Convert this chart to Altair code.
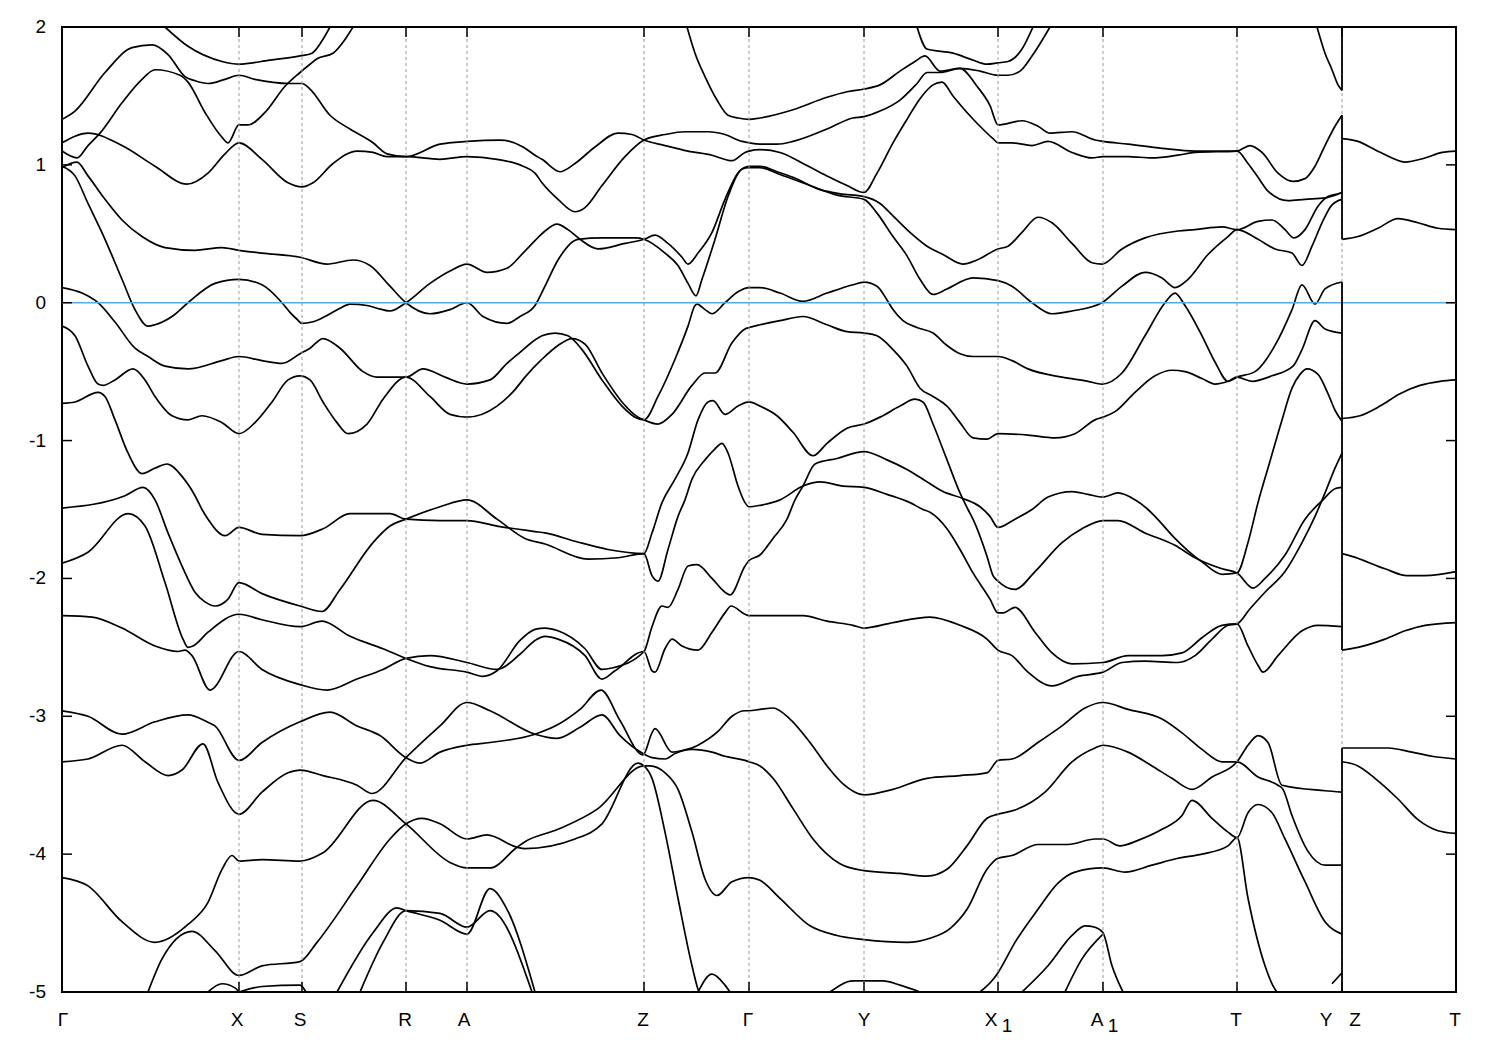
import altair as alt
import pandas as pd

# k: position along the k-path (path units), E: energy (eV)
band_01 = [(103,2.0),(126,1.86),(160,1.75),(177,1.73),(208,1.76),(238,1.79),(250,1.81),(260,1.90),(268,2.0)]
band_02 = [(0,1.33),(13,1.39),(43,1.67),(70,1.85),(90,1.87),(106,1.80),(123,1.64),(133,1.61),(146,1.59),(163,1.62),(177,1.65),(193,1.62),(228,1.59),(240,1.59),(248,1.55),(268,1.36),(288,1.26),(311,1.16),(325,1.08),(344,1.06),(378,1.15),(405,1.17),(438,1.18),(461,1.13),(473,1.07),(480,1.04),(498,0.95),(513,1.01),(533,1.13),(556,1.23),(570,1.22),(582,1.18),(603,1.14),(626,1.10),(650,1.07),(670,1.03),(683,1.09),(687,1.10),(698,1.11),(718,1.09),(741,1.01),(765,0.92),(785,0.85),(802,0.80),(815,0.94),(831,1.16),(845,1.33),(858,1.48),(871,1.58),(880,1.60),(891,1.50),(905,1.38),(918,1.28),(931,1.19),(936,1.16),(950,1.16),(970,1.14),(986,1.17),(1010,1.09),(1030,1.05),(1041,1.06),(1066,1.06),(1090,1.05),(1116,1.07),(1133,1.09),(1175,1.10),(1188,1.14),(1200,1.09),(1216,0.94),(1231,0.88),(1243,0.90),(1253,0.99),(1263,1.14),(1273,1.28),(1280,1.36)]
band_03 = [(0,1.10),(15,1.05),(26,1.14),(38,1.23),(60,1.45),(80,1.62),(93,1.69),(118,1.65),(126,1.60),(143,1.38),(160,1.20),(166,1.16),(177,1.29),(186,1.29),(203,1.38),(223,1.57),(238,1.67),(248,1.73),(255,1.77),(271,1.81),(283,1.91),(291,2.0)]
band_04 = [(0,1.16),(26,1.23),(60,1.14),(93,0.99),(125,0.86),(146,0.94),(163,1.08),(177,1.16),(200,1.04),(226,0.87),(240,0.84),(251,0.87),(271,1.01),(295,1.10),(311,1.09),(325,1.06),(344,1.06),(378,1.04),(405,1.06),(435,1.04),(461,0.99),(473,0.94),(480,0.87),(496,0.75),(513,0.66),(523,0.69),(540,0.85),(563,1.06),(582,1.18),(603,1.22),(623,1.24),(646,1.24),(663,1.22),(680,1.17),(687,1.16),(698,1.15),(715,1.15),(731,1.17),(765,1.26),(791,1.34),(802,1.35),(818,1.39),(838,1.47),(855,1.59),(865,1.67),(878,1.67),(898,1.70),(915,1.57),(928,1.43),(936,1.29),(960,1.32),(976,1.28),(988,1.23),(1010,1.24),(1033,1.18),(1041,1.17),(1066,1.15),(1100,1.12),(1133,1.10),(1175,1.10),(1186,1.01),(1196,0.91),(1206,0.81),(1226,0.74),(1243,0.75),(1263,0.76),(1273,0.78),(1280,0.80)]
band_05 = [(625,2.0),(633,1.81),(643,1.64),(655,1.47),(666,1.36),(676,1.34),(687,1.33),(698,1.34),(731,1.40),(765,1.49),(785,1.53),(802,1.55),(818,1.58),(838,1.68),(853,1.75),(863,1.79),(878,1.68),(898,1.70),(918,1.68),(936,1.65),(946,1.65),(958,1.68),(970,1.79),(988,2.0)]
band_06 = [(855,2.0),(865,1.84),(891,1.81),(911,1.76),(925,1.73),(936,1.74),(946,1.75),(960,1.84),(971,2.0)]
band_07 = [(0,0.99),(13,0.92),(26,0.72),(43,0.46),(60,0.17),(73,-0.05),(86,-0.17),(93,-0.16),(110,-0.10),(126,0.0),(153,0.14),(177,0.17),(200,0.13),(220,0.0),(228,-0.07),(235,-0.12),(240,-0.15),(250,-0.14),(263,-0.10),(278,-0.04),(288,-0.01),(305,-0.02),(315,-0.04),(328,-0.06),(344,0.0),(368,0.14),(388,0.23),(405,0.28),(425,0.22),(445,0.25),(461,0.36),(473,0.45),(483,0.52),(495,0.57),(506,0.53),(518,0.46),(536,0.39),(563,0.43),(582,0.46),(593,0.49),(606,0.43),(620,0.33),(626,0.28),(636,0.36),(650,0.51),(663,0.75),(676,0.94),(687,0.99),(698,0.99),(715,0.95),(731,0.91),(758,0.82),(778,0.79),(802,0.77),(818,0.72),(831,0.63),(848,0.51),(865,0.41),(881,0.35),(901,0.28),(915,0.31),(936,0.39),(946,0.41),(960,0.51),(976,0.62),(990,0.58),(1010,0.43),(1030,0.29),(1040,0.28),(1060,0.39),(1083,0.47),(1116,0.52),(1133,0.53),(1160,0.55),(1175,0.53),(1196,0.59),(1210,0.60),(1223,0.53),(1232,0.47),(1243,0.53),(1256,0.70),(1266,0.77),(1276,0.79),(1280,0.80)]
band_08 = [(0,0.98),(15,1.02),(26,0.92),(43,0.75),(60,0.60),(80,0.48),(103,0.40),(133,0.38),(160,0.40),(177,0.38),(200,0.36),(238,0.33),(265,0.28),(291,0.31),(308,0.27),(328,0.12),(344,0.0),(368,-0.08),(388,-0.05),(405,0.0),(421,-0.10),(445,-0.15),(458,-0.10),(473,-0.02),(483,0.12),(496,0.31),(516,0.46),(540,0.47),(573,0.47),(582,0.46),(603,0.36),(616,0.27),(626,0.14),(634,0.05),(640,0.17),(653,0.46),(666,0.77),(680,0.97),(687,0.98),(698,0.98),(718,0.93),(748,0.85),(775,0.78),(802,0.75),(815,0.65),(831,0.48),(845,0.34),(858,0.17),(871,0.06),(885,0.10),(911,0.18),(936,0.16),(950,0.12),(970,0.0),(990,-0.08),(1010,-0.06),(1040,0.0),(1060,0.12),(1083,0.22),(1100,0.18),(1113,0.11),(1126,0.17),(1146,0.35),(1166,0.48),(1175,0.53),(1196,0.46),(1213,0.39),(1230,0.36),(1240,0.27),(1250,0.41),(1260,0.58),(1270,0.71),(1280,0.75)]
band_09 = [(0,0.11),(20,0.07),(36,0.0),(53,-0.14),(73,-0.33),(86,-0.39),(103,-0.46),(126,-0.48),(160,-0.42),(177,-0.39),(200,-0.42),(220,-0.44),(238,-0.37),(248,-0.33),(261,-0.26),(278,-0.33),(301,-0.50),(315,-0.54),(328,-0.54),(344,-0.54),(361,-0.48),(383,-0.54),(405,-0.59),(428,-0.56),(445,-0.44),(458,-0.36),(473,-0.27),(480,-0.24),(493,-0.22),(506,-0.24),(520,-0.34),(540,-0.56),(560,-0.75),(573,-0.83),(582,-0.85),(596,-0.68),(613,-0.41),(626,-0.17),(633,-0.02),(635,-0.01),(643,-0.05),(650,-0.08),(663,0.0),(676,0.08),(687,0.11),(698,0.11),(718,0.07),(741,0.01),(765,0.07),(791,0.13),(802,0.15),(815,0.12),(825,0.02),(831,-0.05),(841,-0.13),(855,-0.18),(871,-0.22),(885,-0.31),(898,-0.37),(911,-0.39),(936,-0.39),(950,-0.42),(966,-0.48),(1000,-0.54),(1026,-0.57),(1040,-0.59),(1060,-0.51),(1083,-0.24),(1103,0.0),(1113,0.07),(1123,-0.02),(1140,-0.24),(1153,-0.43),(1166,-0.57),(1175,-0.54),(1193,-0.50),(1213,-0.31),(1230,-0.05),(1240,0.13),(1253,-0.01),(1263,0.10),(1280,0.15)]
band_10 = [(0,-0.17),(13,-0.24),(26,-0.46),(36,-0.59),(41,-0.60),(53,-0.56),(71,-0.48),(83,-0.56),(93,-0.68),(110,-0.82),(126,-0.85),(140,-0.82),(160,-0.87),(177,-0.95),(193,-0.87),(210,-0.72),(226,-0.56),(238,-0.53),(248,-0.56),(261,-0.72),(275,-0.87),(286,-0.95),(305,-0.88),(321,-0.70),(344,-0.54),(368,-0.68),(388,-0.81),(405,-0.83),(435,-0.75),(453,-0.63),(463,-0.54),(480,-0.41),(496,-0.31),(510,-0.26),(523,-0.30),(540,-0.51),(560,-0.72),(576,-0.83),(582,-0.85),(596,-0.88),(610,-0.81),(630,-0.60),(643,-0.51),(653,-0.51),(670,-0.29),(683,-0.19),(687,-0.18),(698,-0.16),(718,-0.13),(741,-0.10),(765,-0.16),(785,-0.21),(802,-0.22),(815,-0.24),(831,-0.34),(845,-0.46),(858,-0.62),(871,-0.68),(885,-0.75),(898,-0.87),(911,-0.98),(925,-0.99),(936,-0.95),(966,-0.96),(993,-0.98),(1013,-0.95),(1033,-0.85),(1041,-0.83),(1053,-0.79),(1073,-0.65),(1093,-0.53),(1110,-0.49),(1123,-0.50),(1140,-0.55),(1153,-0.59),(1166,-0.57),(1175,-0.54),(1190,-0.57),(1210,-0.53),(1231,-0.46),(1240,-0.34),(1253,-0.13),(1263,-0.19),(1280,-0.22)]
band_11 = [(0,-0.73),(13,-0.72),(36,-0.65),(43,-0.68),(53,-0.85),(66,-1.09),(80,-1.24),(93,-1.20),(105,-1.17),(120,-1.26),(133,-1.40),(140,-1.50),(146,-1.57),(163,-1.69),(177,-1.63),(200,-1.68),(238,-1.69),(261,-1.64),(288,-1.53),(328,-1.53),(344,-1.57),(378,-1.58),(405,-1.58),(435,-1.62),(473,-1.66),(483,-1.67),(513,-1.73),(546,-1.79),(582,-1.82),(590,-1.67),(600,-1.45),(613,-1.28),(626,-1.09),(636,-0.85),(646,-0.72),(651,-0.71),(663,-0.81),(676,-0.75),(687,-0.72),(698,-0.75),(715,-0.82),(731,-0.94),(751,-1.11),(765,-1.02),(785,-0.91),(802,-0.88),(818,-0.83),(838,-0.75),(853,-0.70),(861,-0.72),(871,-0.88),(885,-1.14),(898,-1.38),(906,-1.50),(911,-1.57),(925,-1.84),(931,-1.98),(936,-2.02),(953,-2.08),(973,-1.95),(1000,-1.74),(1020,-1.64),(1041,-1.58),(1056,-1.58),(1083,-1.67),(1113,-1.76),(1133,-1.85),(1160,-1.93),(1175,-1.96),(1191,-2.07),(1203,-2.00),(1223,-1.83),(1243,-1.57),(1261,-1.43),(1273,-1.35),(1280,-1.34)]
band_12 = [(0,-1.49),(63,-1.40),(81,-1.34),(93,-1.43),(106,-1.67),(120,-1.91),(133,-2.10),(143,-2.17),(153,-2.20),(166,-2.15),(177,-2.03),(200,-2.11),(238,-2.20),(260,-2.24),(278,-2.08),(311,-1.74),(328,-1.62),(344,-1.57),(378,-1.48),(405,-1.43),(435,-1.57),(463,-1.71),(483,-1.75),(526,-1.86),(556,-1.85),(582,-1.82),(590,-1.98),(596,-2.02),(606,-1.79),(616,-1.55),(623,-1.43),(630,-1.28),(643,-1.14),(653,-1.06),(660,-1.02),(666,-1.09),(676,-1.33),(683,-1.45),(687,-1.48),(698,-1.47),(718,-1.43),(741,-1.33),(758,-1.30),(781,-1.33),(802,-1.34),(825,-1.39),(848,-1.45),(861,-1.50),(868,-1.52),(885,-1.64),(898,-1.79),(911,-1.96),(928,-2.15),(936,-2.25),(941,-2.25),(953,-2.21),(973,-2.39),(990,-2.54),(1010,-2.62),(1041,-2.61),(1066,-2.56),(1100,-2.56),(1120,-2.54),(1140,-2.43),(1160,-2.34),(1175,-2.33),(1186,-2.49),(1196,-2.63),(1201,-2.68),(1216,-2.56),(1240,-2.38),(1256,-2.34),(1280,-2.35)]
band_13 = [(0,-1.89),(26,-1.81),(66,-1.53),(83,-1.62),(103,-2.03),(121,-2.44),(126,-2.50),(131,-2.49),(146,-2.39),(177,-2.26),(200,-2.30),(238,-2.35),(260,-2.31),(288,-2.42),(321,-2.51),(344,-2.58),(368,-2.64),(405,-2.68),(421,-2.71),(435,-2.67),(458,-2.45),(473,-2.37),(483,-2.36),(496,-2.38),(523,-2.51),(540,-2.66),(550,-2.65),(582,-2.53),(590,-2.35),(600,-2.20),(606,-2.21),(616,-2.08),(626,-1.91),(635,-1.90),(650,-2.00),(663,-2.10),(668,-2.12),(683,-1.91),(687,-1.87),(698,-1.83),(711,-1.71),(725,-1.57),(733,-1.43),(741,-1.33),(753,-1.17),(775,-1.13),(802,-1.08),(825,-1.14),(845,-1.21),(861,-1.28),(881,-1.37),(901,-1.42),(918,-1.48),(928,-1.55),(936,-1.63),(953,-1.57),(970,-1.50),(986,-1.41),(1010,-1.37),(1026,-1.39),(1041,-1.41),(1056,-1.38),(1073,-1.43),(1086,-1.50),(1093,-1.55),(1113,-1.71),(1126,-1.80),(1140,-1.88),(1160,-1.97),(1175,-1.96),(1186,-1.74),(1196,-1.45),(1208,-1.15),(1220,-0.85),(1230,-0.62),(1238,-0.52),(1245,-0.48),(1256,-0.52),(1266,-0.66),(1273,-0.78),(1280,-0.86)]
band_14 = [(0,-2.27),(30,-2.28),(60,-2.36),(93,-2.49),(116,-2.53),(123,-2.52),(130,-2.56),(148,-2.81),(177,-2.53),(200,-2.66),(238,-2.77),(265,-2.81),(295,-2.73),(321,-2.66),(344,-2.58),(368,-2.56),(405,-2.61),(435,-2.66),(458,-2.55),(473,-2.45),(483,-2.42),(496,-2.44),(523,-2.56),(540,-2.73),(553,-2.67),(582,-2.53),(590,-2.67),(593,-2.68),(603,-2.51),(610,-2.44),(620,-2.49),(636,-2.52),(650,-2.39),(663,-2.25),(669,-2.20),(683,-2.26),(687,-2.27),(741,-2.27),(765,-2.31),(791,-2.34),(802,-2.36),(831,-2.32),(868,-2.28),(898,-2.34),(925,-2.44),(936,-2.52),(950,-2.56),(966,-2.68),(990,-2.78),(1016,-2.71),(1041,-2.68),(1060,-2.61),(1083,-2.60),(1116,-2.61),(1133,-2.56),(1150,-2.44),(1166,-2.34),(1175,-2.33),(1188,-2.22),(1203,-2.10),(1223,-1.95),(1240,-1.74),(1253,-1.55),(1263,-1.38),(1273,-1.20),(1280,-1.09)]
band_15 = [(0,-2.96),(26,-3.0),(60,-3.13),(93,-3.04),(126,-2.99),(145,-3.04),(153,-3.07),(177,-3.32),(200,-3.19),(238,-3.04),(268,-2.97),(295,-3.07),(318,-3.14),(344,-3.30),(358,-3.34),(378,-3.26),(405,-3.21),(428,-3.19),(473,-3.13),(496,-3.06),(518,-2.95),(539,-2.81),(558,-3.03),(581,-3.28),(590,-3.12),(593,-3.09),(610,-3.26),(630,-3.24),(650,-3.26),(663,-3.29),(683,-3.32),(687,-3.33),(698,-3.36),(711,-3.45),(731,-3.67),(751,-3.89),(778,-4.07),(802,-4.12),(838,-4.14),(865,-4.16),(885,-4.11),(905,-3.94),(925,-3.74),(936,-3.71),(953,-3.68),(983,-3.55),(1010,-3.33),(1033,-3.23),(1041,-3.21),(1066,-3.26),(1090,-3.36),(1110,-3.45),(1130,-3.53),(1150,-3.44),(1175,-3.33),(1186,-3.21),(1196,-3.14),(1206,-3.19),(1220,-3.50),(1263,-3.54),(1280,-3.55)]
band_16 = [(0,-3.33),(26,-3.31),(60,-3.21),(83,-3.33),(106,-3.43),(120,-3.39),(141,-3.20),(156,-3.48),(177,-3.71),(200,-3.55),(226,-3.41),(238,-3.39),(261,-3.43),(295,-3.50),(310,-3.56),(344,-3.30),(378,-3.07),(405,-2.90),(428,-2.96),(473,-3.13),(495,-3.16),(518,-3.08),(540,-2.99),(558,-3.14),(581,-3.27),(590,-3.30),(603,-3.31),(613,-3.27),(636,-3.21),(656,-3.11),(670,-3.0),(683,-2.96),(687,-2.96),(698,-2.95),(711,-2.94),(728,-3.02),(748,-3.19),(765,-3.36),(781,-3.49),(802,-3.57),(831,-3.53),(865,-3.45),(898,-3.43),(925,-3.41),(936,-3.32),(950,-3.31),(976,-3.19),(1000,-3.07),(1023,-2.94),(1041,-2.90),(1066,-2.95),(1100,-3.02),(1120,-3.12),(1140,-3.24),(1160,-3.33),(1175,-3.33),(1196,-3.44),(1216,-3.50),(1221,-3.53),(1230,-3.72),(1246,-3.98),(1263,-4.08),(1280,-4.08)]
band_17 = [(0,-4.17),(26,-4.23),(60,-4.49),(93,-4.64),(126,-4.51),(146,-4.35),(160,-4.11),(170,-4.01),(177,-4.05),(200,-4.04),(238,-4.05),(261,-3.99),(311,-3.61),(344,-3.78),(388,-4.06),(405,-4.10),(428,-4.10),(455,-3.95),(463,-3.91),(496,-3.82),(536,-3.67),(582,-3.36),(588,-3.36),(603,-3.41),(616,-3.53),(630,-3.84),(643,-4.18),(655,-4.30),(670,-4.20),(687,-4.17),(698,-4.19),(718,-4.32),(748,-4.52),(775,-4.59),(802,-4.62),(845,-4.64),(868,-4.61),(888,-4.54),(905,-4.40),(925,-4.11),(936,-4.03),(950,-4.01),(976,-3.93),(1006,-3.93),(1033,-3.89),(1041,-3.89),(1058,-3.94),(1076,-3.90),(1100,-3.82),(1120,-3.72),(1130,-3.61),(1150,-3.74),(1166,-3.84),(1175,-3.88),(1186,-3.70),(1196,-3.64),(1210,-3.70),(1223,-3.89),(1243,-4.20),(1263,-4.49),(1280,-4.58)]
band_18 = [(86,-5.0),(100,-4.76),(130,-4.56),(153,-4.70),(177,-4.88),(200,-4.81),(238,-4.78),(255,-4.64),(295,-4.23),(328,-3.89),(344,-3.78),(360,-3.74),(378,-3.78),(405,-3.89),(425,-3.86),(455,-3.95),(463,-3.96),(513,-3.89),(540,-3.78),(576,-3.34),(582,-3.36),(590,-3.45),(603,-3.84),(616,-4.32),(630,-4.81),(636,-4.98),(637,-5.0)]
band_19 = [(636,-5.0),(650,-4.87),(663,-4.95),(668,-5.0)]
band_20 = [(768,-5.0),(791,-4.92),(821,-4.92),(838,-4.95),(858,-5.0)]
band_21 = [(918,-5.0),(931,-4.91),(936,-4.86),(953,-4.64),(976,-4.40),(996,-4.21),(1013,-4.13),(1041,-4.10),(1063,-4.13),(1090,-4.08),(1116,-4.03),(1140,-4.00),(1166,-3.94),(1175,-3.88),(1186,-4.32),(1203,-4.81),(1213,-4.98),(1215,-5.0)]
band_22 = [(960,-5.0),(986,-4.81),(1010,-4.59),(1023,-4.52),(1033,-4.53),(1041,-4.57),(1050,-4.81),(1061,-5.0)]
band_23 = [(1003,-5.0),(1020,-4.76),(1041,-4.58)]
band_24 = [(1270,-4.94),(1280,-4.86)]
band_25 = [(275,-5.0),(311,-4.57),(335,-4.39),(344,-4.41),(378,-4.48),(405,-4.58),(428,-4.25),(445,-4.40),(473,-5.0)]
band_26 = [(298,-5.0),(321,-4.64),(344,-4.41),(378,-4.43),(405,-4.53),(428,-4.41),(470,-5.0)]
band_27 = [(146,-5.0),(160,-4.94),(173,-4.97),(177,-5.0)]
band_28 = [(177,-5.0),(200,-4.96),(238,-4.95),(244,-5.0)]
band_29 = [(1280,1.19),(1296,1.17),(1313,1.11),(1330,1.05),(1343,1.02),(1363,1.05),(1380,1.09),(1394,1.10)]
band_30 = [(1280,0.46),(1296,0.48),(1316,0.54),(1336,0.61),(1356,0.58),(1376,0.54),(1394,0.53)]
band_31 = [(1280,-0.84),(1298,-0.82),(1318,-0.75),(1338,-0.66),(1358,-0.60),(1378,-0.57),(1394,-0.56)]
band_32 = [(1280,-1.82),(1290,-1.84),(1323,-1.93),(1345,-1.98),(1363,-1.98),(1394,-1.95)]
band_33 = [(1280,-2.52),(1296,-2.50),(1323,-2.44),(1343,-2.38),(1363,-2.34),(1394,-2.32)]
band_34 = [(1280,-3.23),(1296,-3.23),(1326,-3.23),(1350,-3.26),(1370,-3.29),(1394,-3.31)]
band_35 = [(1280,-3.33),(1296,-3.36),(1313,-3.45),(1336,-3.60),(1356,-3.75),(1376,-3.83),(1394,-3.85)]
band_36 = [(1255,2.0),(1263,1.81),(1270,1.69),(1276,1.58),(1280,1.54)]

# jumps of the bands at the Y|Z discontinuity (low, high)
jump_lo = [1.54, 0.46, -2.52, -5.0]
jump_hi = [2.0, 1.36, 0.15, -3.23]
jump_k = 1280

# high-symmetry points
sym_k = [177, 240, 344, 405, 582, 687, 802, 936, 1041, 1175, 1280]
label_text = ["Γ", "X", "S", "R", "A", "Z", "Γ", "Y", "X", "A", "T", "Y", "Z", "T"]
label_k = [1, 175, 238, 343, 402, 581, 686, 802, 929, 1035, 1174, 1264, 1293, 1393]
sub_text = ["1", "1"]
sub_k = [945, 1051]
y_ticks = [-5, -4, -3, -2, -1, 0, 1, 2]
y_tick_text = ["-5", "-4", "-3", "-2", "-1", "0", "1", "2"]

bands = [band_01, band_02, band_03, band_04, band_05, band_06, band_07, band_08, band_09,
         band_10, band_11, band_12, band_13, band_14, band_15, band_16, band_17, band_18,
         band_19, band_20, band_21, band_22, band_23, band_24, band_25, band_26, band_27,
         band_28, band_29, band_30, band_31, band_32, band_33, band_34, band_35, band_36]

rows = []
for i, b in enumerate(bands):
    for j, (k, e) in enumerate(b):
        rows.append({"band": i, "idx": j, "k": k, "E": e})
df = pd.DataFrame(rows)

W, H = 1394, 965
FONT = "Liberation Sans"
xs = alt.Scale(domain=[0, 1394], nice=False, zero=False)
ys = alt.Scale(domain=[-5, 2], nice=False, zero=False)

lines = alt.Chart(df).mark_line(color="black", strokeWidth=1.7, interpolate="monotone", clip=True).encode(
    x=alt.X("k:Q", scale=xs, axis=None),
    y=alt.Y("E:Q", scale=ys, axis=None),
    detail="band:N",
    order="idx:Q",
)

sym_df = pd.DataFrame({"k": sym_k})
grid = alt.Chart(sym_df).mark_rule(color="#9a9a9a", strokeWidth=1, strokeDash=[3, 3]).encode(
    x=alt.X("k:Q", scale=xs, axis=None), y=alt.value(0), y2=alt.value(H))
top_ticks = alt.Chart(sym_df).mark_rule(color="black", strokeWidth=1.5).encode(
    x=alt.X("k:Q", scale=xs, axis=None), y=alt.value(0), y2=alt.value(10))
bot_ticks = alt.Chart(sym_df).mark_rule(color="black", strokeWidth=1.5).encode(
    x=alt.X("k:Q", scale=xs, axis=None), y=alt.value(H - 10), y2=alt.value(H))

zero = alt.Chart(pd.DataFrame({"E": [0]})).mark_rule(color="#56acdf", strokeWidth=1.6).encode(
    y=alt.Y("E:Q", scale=ys, axis=None), x=alt.value(0), x2=alt.value(W))

yt_df = pd.DataFrame({"E": y_ticks, "t": y_tick_text})
left_ticks = alt.Chart(yt_df).mark_rule(color="black", strokeWidth=1.5).encode(
    y=alt.Y("E:Q", scale=ys, axis=None), x=alt.value(0), x2=alt.value(10))
right_ticks = alt.Chart(yt_df).mark_rule(color="black", strokeWidth=1.5).encode(
    y=alt.Y("E:Q", scale=ys, axis=None), x=alt.value(W - 10), x2=alt.value(W))
y_labels = alt.Chart(yt_df).mark_text(font=FONT, fontSize=19, color="black", align="right", baseline="middle").encode(
    y=alt.Y("E:Q", scale=ys, axis=None), x=alt.value(-16), text="t:N")

jump_df = pd.DataFrame({"k": [jump_k] * len(jump_lo), "lo": jump_lo, "hi": jump_hi})
jumps = alt.Chart(jump_df).mark_rule(color="black", strokeWidth=1.8).encode(
    x=alt.X("k:Q", scale=xs, axis=None), y=alt.Y("lo:Q", scale=ys, axis=None), y2="hi:Q")

lab_df = pd.DataFrame({"k": label_k, "t": label_text})
labels = alt.Chart(lab_df).mark_text(font=FONT, fontSize=19, color="black", baseline="middle", align="center").encode(
    x=alt.X("k:Q", scale=xs, axis=None), y=alt.value(H + 28), text="t:N")
sub_df = pd.DataFrame({"k": sub_k, "t": sub_text})
subs = alt.Chart(sub_df).mark_text(font=FONT, fontSize=19, color="black", baseline="middle", align="center").encode(
    x=alt.X("k:Q", scale=xs, axis=None), y=alt.value(H + 34), text="t:N")

chart = alt.layer(lines, grid, zero, jumps, top_ticks, bot_ticks, left_ticks, right_ticks,
                  y_labels, labels, subs).properties(
    width=W, height=H, padding={"left": 21, "top": 10, "right": 5, "bottom": 5}
).configure_view(stroke="black", strokeWidth=2)

chart.save("out.html", embed_options={"renderer": "svg", "actions": False})
